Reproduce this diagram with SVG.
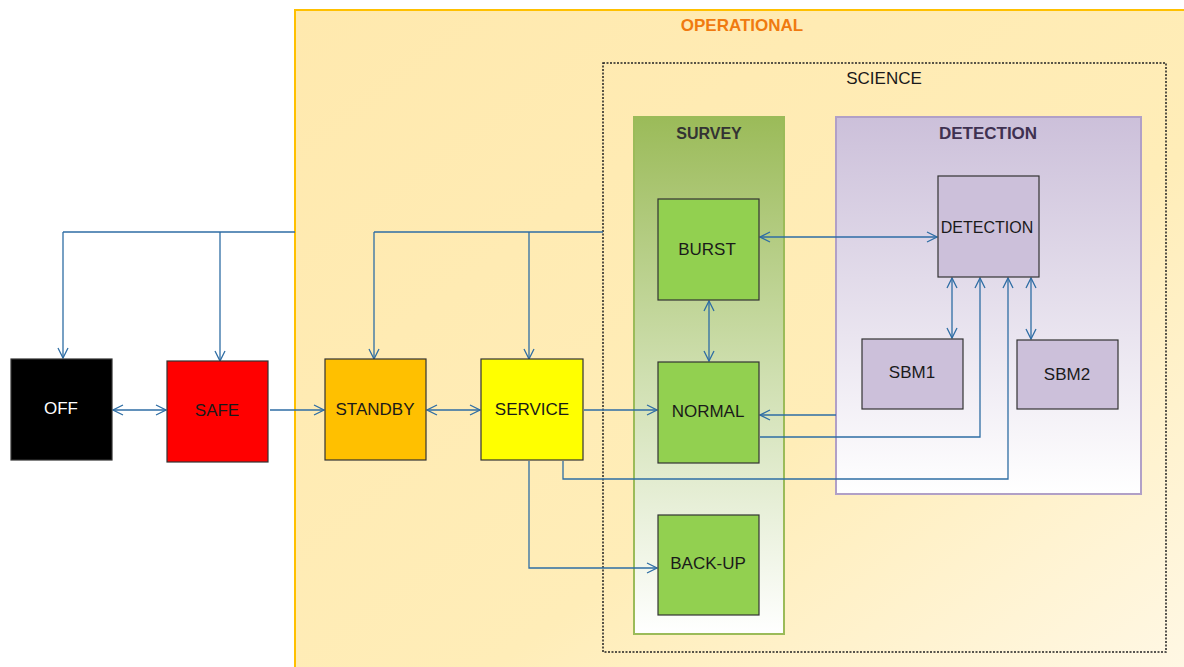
<svg xmlns="http://www.w3.org/2000/svg" width="1184" height="667" viewBox="0 0 1184 667">
<defs>
<linearGradient id="gOp" x1="0" y1="0" x2="1" y2="1">
<stop offset="0" stop-color="#FFE9AE"/>
<stop offset="0.6" stop-color="#FFEDB8"/>
<stop offset="1" stop-color="#FFF8E6"/>
</linearGradient>
<linearGradient id="gSurvey" x1="0" y1="0" x2="0" y2="1">
<stop offset="0" stop-color="#9BBB59"/>
<stop offset="0.5" stop-color="#CFDFB0"/>
<stop offset="1" stop-color="#FFFFFF"/>
</linearGradient>
<linearGradient id="gDet" x1="0" y1="0" x2="0" y2="1">
<stop offset="0" stop-color="#CCC0DA"/>
<stop offset="1" stop-color="#FFFFFF"/>
</linearGradient>
<marker id="arr" viewBox="0 0 12 12" refX="11" refY="6" markerWidth="12" markerHeight="12" markerUnits="userSpaceOnUse" orient="auto-start-reverse">
<path d="M1,1 L11,6 L1,11" fill="none" stroke="#2E6DA4" stroke-width="1.3"/>
</marker>
<style>
.node{stroke:#333;stroke-width:1.2}
.lbl{font-family:"Liberation Sans",Arial,sans-serif;font-size:17px;fill:#1a1a1a;text-anchor:middle;dominant-baseline:central}
.hdr{font-family:"Liberation Sans",Arial,sans-serif;font-size:16px;font-weight:bold;text-anchor:middle;dominant-baseline:central}
.c{fill:none;stroke:#2E6DA4;stroke-width:1.3}
.ca{fill:none;stroke:#2E6DA4;stroke-width:1.3;marker-end:url(#arr)}
.cb{fill:none;stroke:#2E6DA4;stroke-width:1.3;marker-end:url(#arr);marker-start:url(#arr)}
</style>
</defs>
<rect width="1184" height="667" fill="#FFFFFF"/>
<g id="operational">
<rect x="295" y="10" width="900" height="670" fill="url(#gOp)" stroke="#FFC000" stroke-width="2"/>
<text class="hdr" x="742" y="25" fill="#F07A10" style="font-size:17px">OPERATIONAL</text>
</g>
<g id="science">
<rect x="603" y="63" width="563" height="589" fill="none" stroke="#222" stroke-width="1.5" stroke-dasharray="2,1.5"/>
<text class="lbl" x="884" y="78">SCIENCE</text>
</g>
<g id="survey">
<rect x="634" y="117" width="150" height="517" fill="url(#gSurvey)" stroke="#9BBB59" stroke-width="2"/>
<text class="hdr" x="709" y="133" fill="#333">SURVEY</text>
</g>
<g id="detection-group">
<rect x="836" y="117" width="305" height="377" fill="url(#gDet)" stroke="#B1A0C7" stroke-width="2"/>
<text class="hdr" x="988" y="133" fill="#3F3151" style="font-size:17px">DETECTION</text>
</g>
<g id="connectors">
<polyline class="c" points="295,232 63,232"/>
<polyline class="ca" points="63,232 63,358"/>
<polyline class="ca" points="220,232 220,361"/>
<polyline class="c" points="603,232 374,232"/>
<polyline class="ca" points="374,232 374,359"/>
<polyline class="ca" points="529,232 529,359"/>
<line class="cb" x1="113" y1="410" x2="166" y2="410"/>
<line class="ca" x1="270" y1="410" x2="324" y2="410"/>
<line class="cb" x1="427" y1="410" x2="480" y2="410"/>
<line class="ca" x1="584" y1="410" x2="657" y2="410"/>
<line class="cb" x1="760" y1="237" x2="937" y2="237"/>
<line class="cb" x1="709" y1="301" x2="709" y2="361"/>
<line class="ca" x1="836" y1="415" x2="760" y2="415"/>
<polyline class="ca" points="760,437 980,437 980,278"/>
<polyline class="ca" points="563,461 563,479 1008,479 1008,278"/>
<line class="cb" x1="952" y1="278" x2="952" y2="338"/>
<line class="cb" x1="1031" y1="278" x2="1031" y2="339"/>
<polyline class="ca" points="529,461 529,568 657,568"/>
</g>
<g id="off">
<rect class="node" x="11" y="359" width="101" height="101" fill="#000000"/>
<text class="lbl" x="61" y="408" style="fill:#FFFFFF">OFF</text>
</g>
<g id="safe">
<rect class="node" x="167" y="361" width="101" height="101" fill="#FF0000"/>
<text class="lbl" x="217" y="410">SAFE</text>
</g>
<g id="standby">
<rect class="node" x="325" y="359" width="101" height="101" fill="#FFC000"/>
<text class="lbl" x="375" y="409">STANDBY</text>
</g>
<g id="service">
<rect class="node" x="481" y="359" width="102" height="101" fill="#FFFF00"/>
<text class="lbl" x="532" y="409">SERVICE</text>
</g>
<g id="burst">
<rect class="node" x="658" y="199" width="101" height="101" fill="#92D050"/>
<text class="lbl" x="707" y="249">BURST</text>
</g>
<g id="normal">
<rect class="node" x="658" y="362" width="101" height="101" fill="#92D050"/>
<text class="lbl" x="708" y="411">NORMAL</text>
</g>
<g id="backup">
<rect class="node" x="658" y="515" width="101" height="100" fill="#92D050"/>
<text class="lbl" x="708" y="563">BACK-UP</text>
</g>
<g id="detection">
<rect class="node" x="938" y="176" width="101" height="101" fill="#CCC0DA"/>
<text class="lbl" x="987" y="227" style="font-size:16px">DETECTION</text>
</g>
<g id="sbm1">
<rect class="node" x="862" y="339" width="101" height="70" fill="#CCC0DA"/>
<text class="lbl" x="912" y="372">SBM1</text>
</g>
<g id="sbm2">
<rect class="node" x="1017" y="340" width="101" height="69" fill="#CCC0DA"/>
<text class="lbl" x="1067" y="374">SBM2</text>
</g>
</svg>
